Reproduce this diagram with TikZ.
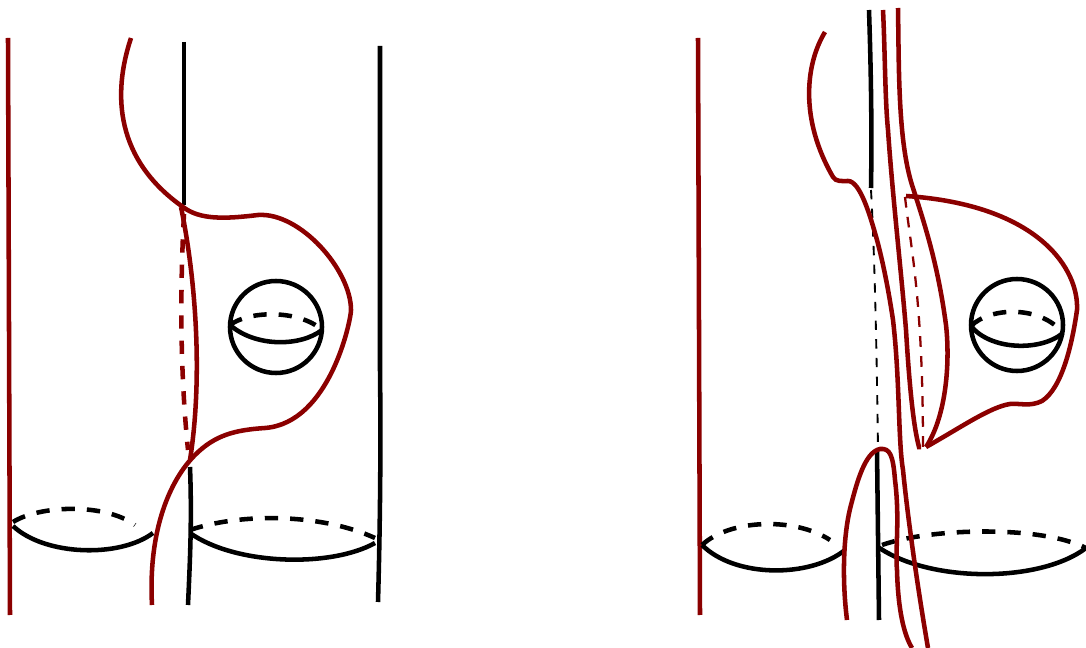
\documentclass[tikz,border=0pt]{standalone}
\definecolor{cuerdaRed}{HTML}{8B0000}
\usepackage{tikz}
\tikzset{
	cuerda/.style={
		cuerdaRed,
		line width=3.4pt
	},
	cuerdaOculta/.style={
		cuerdaRed,
		line width=3.4pt,
		dash pattern=on 10pt off 9pt
	},
	cuerdaFina/.style={
		cuerdaRed,
		line width=1.7pt,
		dash pattern=on 8pt off 7pt
	},
	borde/.style={
		black,
		line width=3.4pt
	},
	bordeOculto/.style={
		black,
		line width=3.4pt,
		dash pattern=on 10pt off 9pt
	},
	bordeFino/.style={
		black,
		line width=1.4pt,
		dash pattern=on 7pt off 7pt
	}
}

\begin{document}
\begin{tikzpicture}[x=0.75pt,y=-0.75pt]
		\useasboundingbox (0,0) rectangle (1086,648);
		\clip (0,0) rectangle (1086,648);
		% esferas
		\foreach \cx/\cy in {276/327,1017/325}{
			\draw[borde] (\cx,\cy) circle (46);
		}
		\draw[borde] (230,325) .. controls (255,347) and (300,347) .. (322,330);
		\draw[bordeOculto] (230,325) .. controls (250,310) and (300,310) .. (322,330);
		\draw[borde] (971,326) .. controls (990,350) and (1040,352) .. (1063,333);
		\draw[bordeOculto] (971,326) .. controls (990,307) and (1040,305) .. (1063,333);
		% panel izquierdo
		\draw[cuerda] (8,38) -- (10,615);
		\draw[borde] (184,42) -- (184,205);
		\draw[borde] (190,467) .. controls (192,520) and (190,560) .. (188,605);
		\draw[borde] (380,46) -- (380,370) .. controls (381,450) and (380,530) .. (378,602);
		\draw[borde] (13,526) .. controls (45,556) and (120,558) .. (153,533);
		\draw[bordeOculto] (13,522) .. controls (40,505) and (105,503) .. (135,525);
		\draw[borde] (190,533) .. controls (235,565) and (330,568) .. (375,543);
		\draw[bordeOculto] (190,530) .. controls (240,513) and (320,513) .. (375,538);
		\draw[cuerda] (131,38) .. controls (112,95) and (116,160) .. (183,207)
			.. controls (200,220) and (225,219) .. (258,215)
			.. controls (300,212) and (351,270) .. (351,310)
			.. controls (351,320) and (330,423) .. (265,428)
			.. controls (235,430) and (215,435) .. (195,455)
			.. controls (170,480) and (148,530) .. (152,605);
		\draw[cuerda] (181,207) .. controls (194,270) and (204,370) .. (190,460);
		\draw[cuerdaOculta] (184,214) .. controls (180,290) and (180,370) .. (188,450);
		% panel derecho
		\draw[cuerda] (698,38) -- (700,615);
		\draw[borde] (869,10) .. controls (871,70) and (872,130) .. (871,188);
		\draw[bordeFino] (871,190) .. controls (875,260) and (877,370) .. (878,450);
		\draw[borde] (877,450) -- (879,620);
		\draw[borde] (702,545) .. controls (735,578) and (810,578) .. (845,550);
		\draw[bordeOculto] (702,545) .. controls (730,519) and (795,517) .. (830,540);
		\draw[borde] (878,547) .. controls (930,583) and (1040,583) .. (1086,548);
		\draw[bordeOculto] (882,545) .. controls (930,528) and (1040,525) .. (1086,548);
		\draw[cuerda] (825,32) .. controls (805,65) and (800,120) .. (833,177)
			.. controls (836,182) and (842,181) .. (848,181)
			.. controls (860,181) and (870,215) .. (877,240)
			.. controls (885,270) and (890,300) .. (893,320)
			.. controls (900,380) and (898,440) .. (903,470)
			.. controls (908,520) and (918,590) .. (928,648);
		\draw[cuerda] (883,10) .. controls (885,50) and (885,100) .. (888,130)
			.. controls (892,190) and (902,280) .. (906,330)
			.. controls (909,380) and (913,425) .. (919,447) -- (921,447);
		\draw[cuerda] (898,8) .. controls (899,70) and (898,140) .. (912,185)
			.. controls (925,225) and (938,265) .. (946,325)
			.. controls (950,360) and (947,415) .. (926,447);
		\draw[cuerda] (926,447) .. controls (960,428) and (990,407) .. (1010,404)
			.. controls (1020,403) and (1030,407) .. (1042,401)
			.. controls (1062,388) and (1072,345) .. (1077,310)
			.. controls (1079,270) and (1040,205) .. (906,196);
		\draw[cuerdaFina] (905,197) .. controls (911,250) and (923,300) .. (923,449);
		\draw[cuerda] (847,620) .. controls (842,580) and (843,535) .. (851,505)
			.. controls (857,482) and (865,452) .. (880,449)
			.. controls (890,448) and (893,455) .. (895,480)
			.. controls (900,520) and (895,550) .. (897,570)
			.. controls (898,610) and (904,635) .. (912,648);
	\end{tikzpicture}
\end{document}
